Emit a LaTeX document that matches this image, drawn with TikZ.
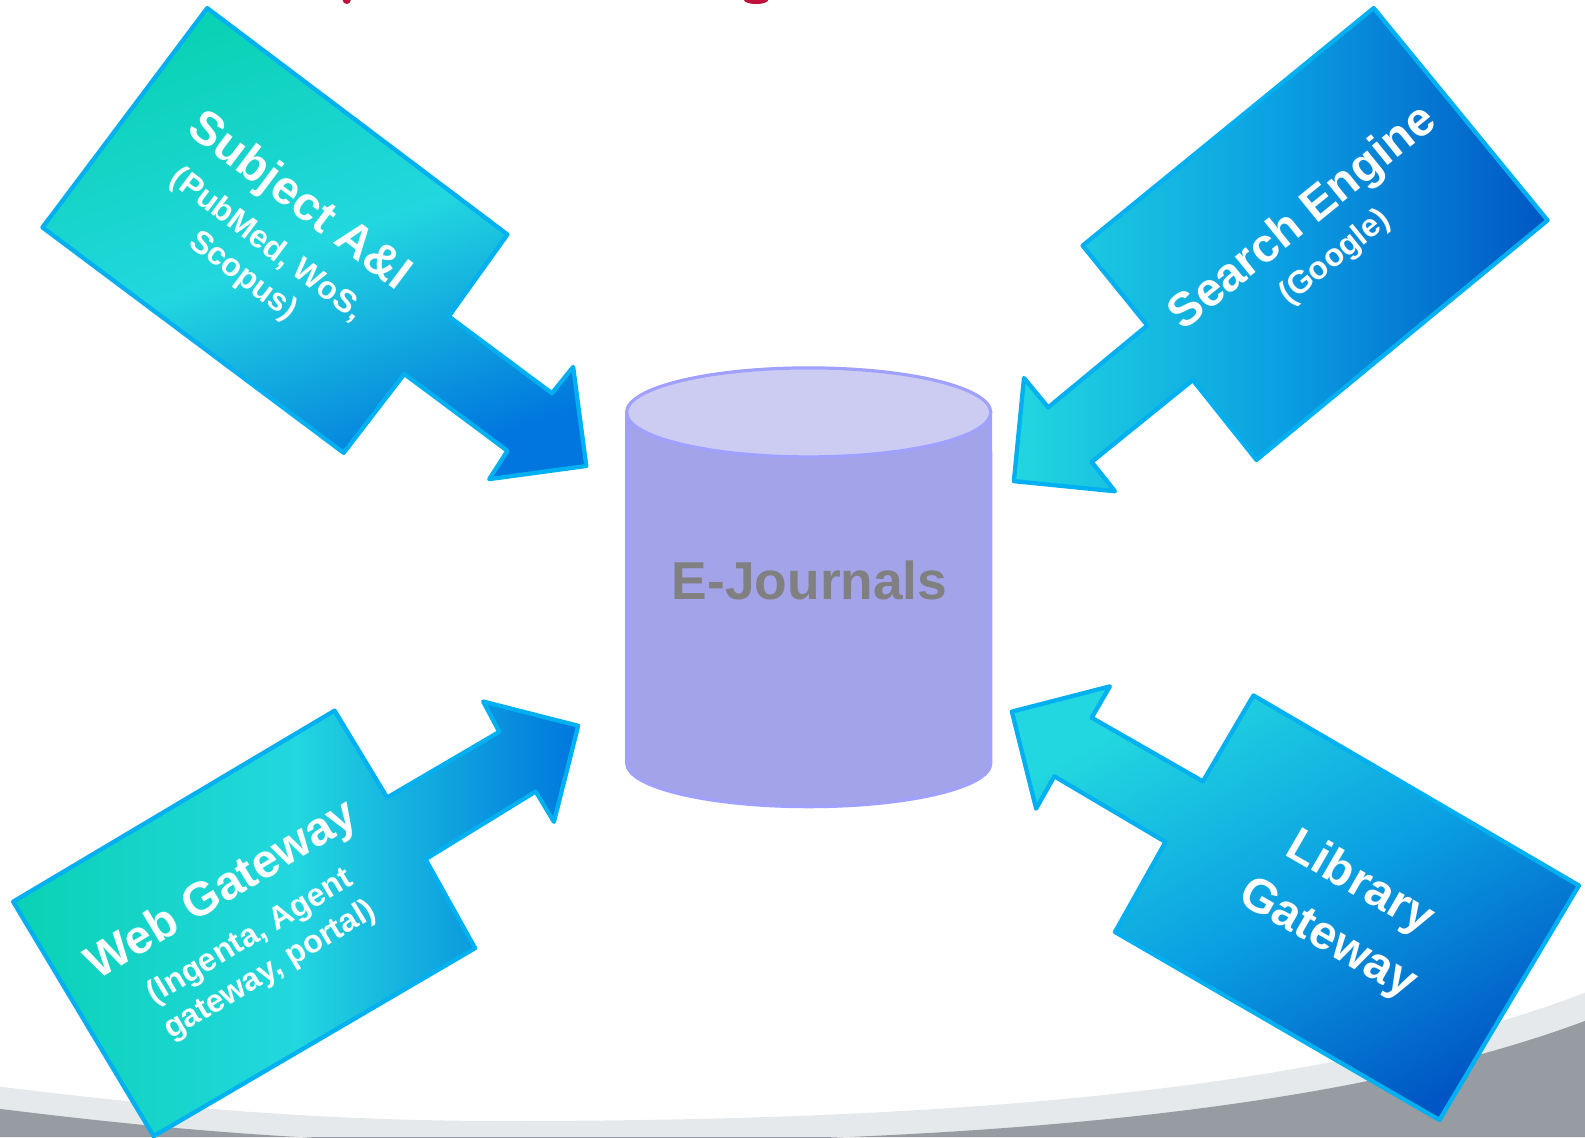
\documentclass[tikz,border=0pt]{standalone}
\usepackage{fontspec}
\setmainfont{Liberation Sans}
\definecolor{edgeblue}{HTML}{00B0F0}
\definecolor{tealgreen}{HTML}{0AD2B4}
\definecolor{lightcyan}{HTML}{22D7DF}
\definecolor{midblue}{HTML}{0A9FE2}
\definecolor{tipblue}{HTML}{0076DE}
\definecolor{deepblue}{HTML}{0056C4}
\definecolor{cylside}{HTML}{A3A3E9}
\definecolor{cyltop}{HTML}{CCCCF3}
\definecolor{cyledge}{HTML}{A0A0FF}
\definecolor{bandlight}{HTML}{E6E9EB}
\definecolor{banddark}{HTML}{969CA2}
\definecolor{titlered}{HTML}{C0103C}
\begin{document}
\begin{tikzpicture}[x=0.01cm, y=-0.01cm,
    callout/.style={draw=edgeblue, line width=1.2pt, line join=round},
    label/.style={text=white, align=center, inner sep=0pt},
    small/.style={font=\bfseries\fontsize{9}{11}\selectfont},
    big/.style={font=\bfseries\fontsize{13.4}{18}\selectfont}]
    \useasboundingbox (0,0) rectangle (1568,1125);
    \fill[white] (0,0) rectangle (1568,1125);
    \fill[titlered] (343,0) ellipse (0.04cm and 0.04cm);
    \fill[titlered] (748,0) ellipse (0.12cm and 0.04cm);
    \fill[bandlight] (0,1075) .. controls (200,1100) and (350,1109) .. (500,1109) .. controls (900,1109) and (1300,1085) .. (1568,982) -- (1568,1125) -- (0,1125) -- cycle;
    \fill[banddark] (0,1097) .. controls (200,1122) and (350,1131) .. (520,1131) .. controls (900,1131) and (1300,1110) .. (1568,1010) -- (1568,1125) -- (0,1125) -- cycle;
    \draw[fill=cylside, draw=cyledge, line width=0.9pt] (620,408) -- (620,755) arc[start angle=180, end angle=360, x radius=1.8cm, y radius=0.43cm] -- (980,408) -- cycle;
    \draw[fill=cyltop, draw=cyledge, line width=0.9pt] (800,408) ellipse (1.8cm and 0.44cm);
    \node[text=gray, font=\bfseries\fontsize{15}{18}\selectfont] (ejournals) at (801,574) {E-Journals};
    \draw[callout, top color=tealgreen, bottom color=tipblue, middle color=lightcyan, shading angle=20] (205,8) -- (502,232) -- (444,313) -- (546,389) -- (567,363) -- (580,461) -- (484,474) -- (502,446) -- (400,370) -- (340,448) -- (42,225) -- cycle;
    \draw[callout, left color=lightcyan, right color=deepblue, middle color=midblue] (1359,8) -- (1531,218) -- (1243,455) -- (1180,376) -- (1080,457) -- (1103,486) -- (1003,476) -- (1013,374) -- (1037,403) -- (1135,322) -- (1071,243) -- cycle;
    \draw[callout, left color=tealgreen, right color=tipblue, middle color=lightcyan] (331,703) -- (383,789) -- (494,724) -- (478,694) -- (572,718) -- (548,813) -- (530,783) -- (421,850) -- (470,938) -- (152,1124) -- (13,892) -- cycle;
    \draw[callout, top color=lightcyan, bottom color=deepblue, middle color=midblue, shading angle=30] (1240,688) -- (1562,876) -- (1424,1108) -- (1103,922) -- (1153,833) -- (1043,768) -- (1025,800) -- (1001,704) -- (1098,679) -- (1080,710) -- (1190,773) -- cycle;
    \node[label, small, rotate=-37] (subject) at (270,234) {{\fontsize{13.3}{16}\selectfont Subject A\&I}\\[3pt](PubMed, WoS,\\Scopus)};
    \node[label, small, rotate=39] (search) at (1303,233) {{\fontsize{13.3}{16}\selectfont Search Engine}\\[2pt](Google)};
    \node[label, small, rotate=31] (web) at (242,918) {{\fontsize{13.3}{16}\selectfont Web Gateway}\\[3pt](Ingenta, Agent\\gateway, portal)};
    \node[label, big, rotate=-30] (library) at (1329,902) {Library\\Gateway};
\end{tikzpicture}
\end{document}
